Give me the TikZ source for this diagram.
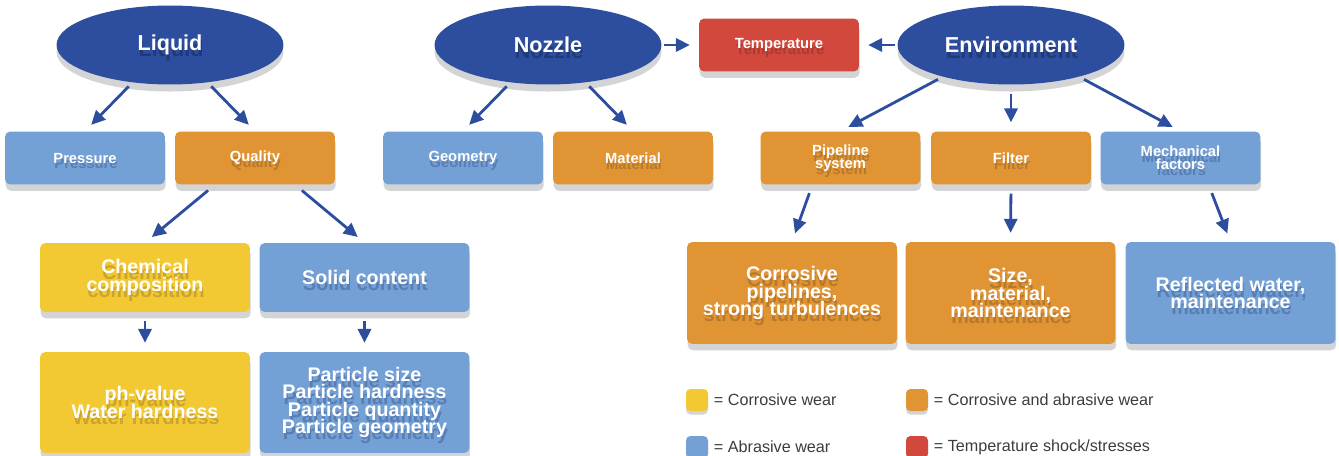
\documentclass[tikz,border=0pt]{standalone}
\usepackage{fontspec}
\setmainfont{Liberation Sans}
\usetikzlibrary{shapes.geometric,arrows.meta,shadows,calc,positioning}
\definecolor{navy}{HTML}{2D4E9E}
\definecolor{navyD}{HTML}{203A78}
\definecolor{skyA}{HTML}{73A0D5}
\definecolor{skyD}{HTML}{587EB4}
\definecolor{orangeA}{HTML}{E09433}
\definecolor{orangeD}{HTML}{B9792B}
\definecolor{yellowA}{HTML}{F3C933}
\definecolor{yellowD}{HTML}{CBA42D}
\definecolor{redA}{HTML}{D2483C}
\definecolor{redD}{HTML}{A83C32}
\definecolor{shade}{HTML}{D3D4D6}
\definecolor{keytxt}{HTML}{3C3C3C}
\colorlet{txtshade}{navyD}
% centred lines with a fixed baseline distance
\newcommand{\linestack}[1]{\vbox{\lineskiplimit=-\maxdimen\let\\\cr
  \halign{\hfil##\hfil\cr#1\crcr}}}
% text with its darker copy underneath
\newcommand{\shtxt}[1]{\makebox[0pt][l]{\hspace{0.6pt}\raisebox{-3.3pt}[0pt][0pt]{\color{txtshade}\linestack{#1}}}\linestack{#1}}

\begin{document}
\begin{tikzpicture}[x=0.02cm, y=-0.02cm,
  topic/.style={ellipse, fill=navy, minimum width=4.54cm, minimum height=1.58cm,
    inner sep=0pt, text=white, font=\bfseries\fontsize{12.3}{13}\selectfont,
    drop shadow={shadow xshift=0pt, shadow yshift=-4pt, fill=shade, opacity=1},
    execute at begin node={\colorlet{txtshade}{navyD}}},
  box/.style={rounded corners=3pt, inner sep=0pt, text=white,
    drop shadow={shadow xshift=0.4pt, shadow yshift=-3.6pt, fill=shade, opacity=1}},
  small/.style={box, minimum width=3.2cm, minimum height=1.06cm,
    font=\bfseries\fontsize{8.4}{7.3}\selectfont},
  big/.style={box, minimum width=4.2cm, font=\bfseries\fontsize{11.2}{9.9}\selectfont},
  skybox/.style={fill=skyA, execute at begin node={\colorlet{txtshade}{skyD}}},
  orangebox/.style={fill=orangeA, execute at begin node={\colorlet{txtshade}{orangeD}}},
  yellowbox/.style={fill=yellowA, execute at begin node={\colorlet{txtshade}{yellowD}}},
  redbox/.style={fill=redA, execute at begin node={\colorlet{txtshade}{redD}}},
  arr/.style={draw=navy, line width=1.6pt, -{Triangle[length=8pt,width=7.5pt]},
    shorten <=3pt, shorten >=5pt},
  key/.style={rounded corners=2.5pt, minimum width=0.44cm, minimum height=0.44cm,
    inner sep=0pt, drop shadow={shadow xshift=0pt, shadow yshift=-2pt, fill=shade, opacity=1}},
  keytext/.style={font=\fontsize{9.2}{11}\selectfont, text=keytxt, inner sep=0pt}]
  \useasboundingbox (0,0) rectangle (1339,456);

  % main influences
  \node[topic] (liquid) at (170,45) {\shtxt{Liquid}};
  \node[topic] (nozzle) at (548,45) {\shtxt{Nozzle}};
  \node[topic] (environment) at (1011,45) {\shtxt{Environment}};
  \node[small, redbox] (temperature) at (779,45) {\shtxt{Temperature}};

  % second row
  \node[small, skybox] (pressure) at (85,158) {\shtxt{Pressure}};
  \node[small, orangebox] (quality) at (255,158) {\shtxt{Quality}};
  \node[small, skybox] (geometry) at (463,158) {\shtxt{Geometry}};
  \node[small, orangebox] (material) at (633,158) {\shtxt{Material}};
  \node[small, orangebox] (pipeline) at (840.5,158) {\shtxt{Pipeline\\system}};
  \node[small, orangebox] (filter) at (1011,158) {\shtxt{Filter}};
  \node[small, skybox] (mechanical) at (1180.5,158) {\shtxt{Mechanical\\factors}};

  % quality details
  \node[big, yellowbox, minimum height=1.38cm] (chemical) at (145,277.5) {\shtxt{Chemical\\composition}};
  \node[big, skybox, minimum height=1.38cm] (solid) at (364.5,277.5) {\shtxt{Solid content}};
  \node[big, yellowbox, minimum height=2.02cm] (phvalue) at (145,402.5) {\shtxt{ph-value\\Water hardness}};
  \node[big, skybox, minimum height=2.02cm] (particle) at (364.5,402.5)
    {\shtxt{Particle size\\Particle hardness\\Particle quantity\\Particle geometry}};

  % environment details
  \node[big, orangebox, minimum height=2.04cm] (corrosive) at (792,293)
    {\shtxt{Corrosive\\pipelines,\\strong turbulences}};
  \node[big, orangebox, minimum height=2.04cm] (sizebox) at (1010.5,293)
    {\shtxt{Size,\\material,\\maintenance}};
  \node[big, skybox, minimum height=2.04cm] (reflected) at (1230.5,293)
    {\shtxt{Reflected water,\\maintenance}};

  % connectors
  \draw[arr] (liquid.225) -- (pressure.north);
  \draw[arr] (liquid.315) -- (quality.north);
  \draw[arr] (nozzle.225) -- (geometry.north);
  \draw[arr] (nozzle.315) -- (material.north);
  \draw[arr, shorten <=1pt] (nozzle.east) -- (nozzle.east -| temperature.west);
  \draw[arr, shorten <=1pt] (environment.west) -- (environment.west -| temperature.east);
  \draw[arr] (environment.205) -- (pipeline.north);
  \draw[arr, shorten <=5pt] (environment.south) -- (filter.north);
  \draw[arr] (environment.335) -- (mechanical.north);
  \draw[arr, shorten <=5pt] ($(quality.south)!0.5!(quality.south west)$) -- (chemical.north);
  \draw[arr, shorten <=5pt] ($(quality.south)!0.5!(quality.south east)$) -- (solid.north);
  \draw[arr, shorten <=5pt] (chemical.south) -- (phvalue.north);
  \draw[arr, shorten <=5pt] (solid.south) -- (particle.north);
  \draw[arr, shorten <=5pt] ($(pipeline.south)!0.35!(pipeline.south west)$) -- (corrosive.north);
  \draw[arr, shorten <=5pt] (filter.south) -- (sizebox.north);
  \draw[arr, shorten <=5pt] ($(mechanical.south)!0.35!(mechanical.south east)$) -- (reflected.north);

  % legend
  \node[key, fill=yellowA] (kyellow) at (697,400) {};
  \node[key, fill=orangeA] (korange) at (917,400) {};
  \node[key, fill=skyA] (kblue) at (697,447) {};
  \node[key, fill=redA] (kred) at (917,447) {};
  \node[keytext, right=3pt of kyellow] (tyellow) {= Corrosive wear};
  \node[keytext, right=3pt of korange] (torange) {= Corrosive and abrasive wear};
  \node[keytext, right=3pt of kblue] (tblue) {= Abrasive wear};
  \node[keytext, right=3pt of kred] (tred) {= Temperature shock/stresses};
\end{tikzpicture}
\end{document}
